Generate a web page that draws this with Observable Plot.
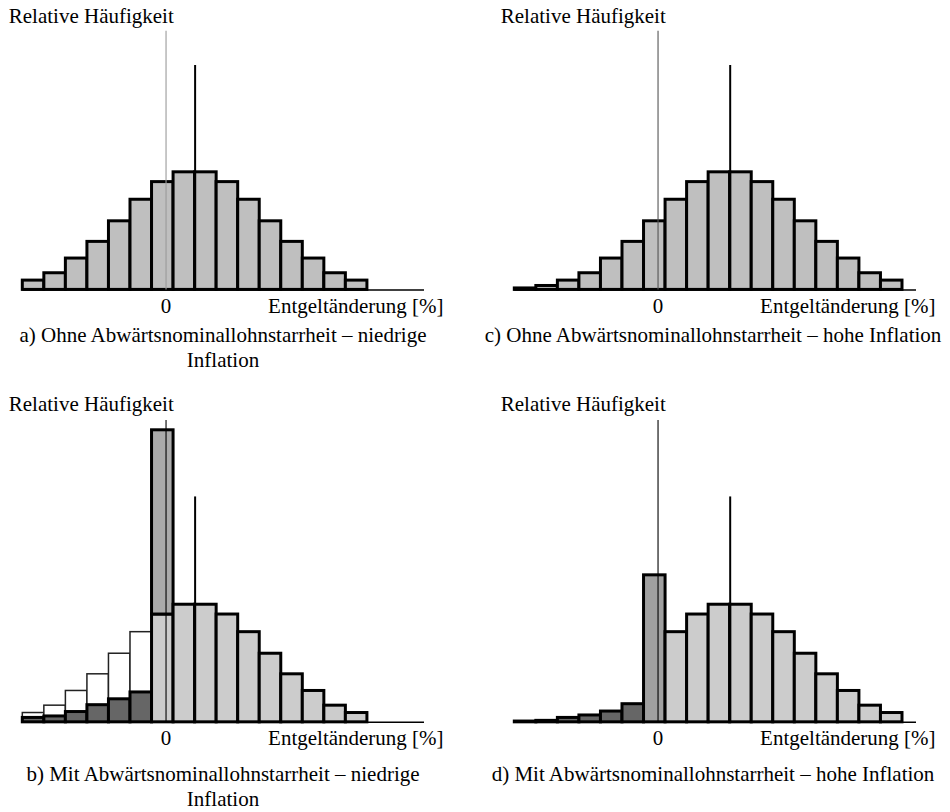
<!DOCTYPE html>
<html>
<head>
<meta charset="utf-8">
<script src="https://cdn.jsdelivr.net/npm/d3@7"></script>
<script src="https://cdn.jsdelivr.net/npm/@observablehq/plot@0.6"></script>
<style>
  body { margin: 0; background: #fff; font-family: "Liberation Serif", "DejaVu Serif", serif; }
  #root { position: relative; width: 950px; height: 812px; overflow: hidden; background: #fff; }
  .panel { position: absolute; width: 475px; }
  .panel svg { max-width: none !important; }
  .cap { position: absolute; text-align: center; font-size: 21px; line-height: 25px; white-space: nowrap; color: #000; }
</style>
</head>
<body>
<div id="root"></div>
<script>
// ---- data ----
// lower edges of the wage-change bins (bin width 1, zero lies inside bin index 6)
const binLower = [-6.65, -5.65, -4.65, -3.65, -2.65, -1.65, -0.65, 0.35, 1.35, 2.35, 3.35, 4.35, 5.35, 6.35, 7.35, 8.35, 9.35, 10.35];
const binWidth = 1;
const xDomain = [-6.65, 12.0];
const xTicks = [0];
const xTickLabels = ["0"];

// a) ohne Starrheit, niedrige Inflation (bins 0..15)
const freqA = [0.95, 1.7, 3.2, 4.9, 7.0, 9.2, 11.0, 12.0, 12.0, 11.0, 9.2, 7.0, 4.9, 3.2, 1.7, 0.95];
// c) ohne Starrheit, hohe Inflation (bins 0..17)
const freqC = [0.15, 0.4, 0.95, 1.7, 3.2, 4.9, 7.0, 9.2, 11.0, 12.0, 12.0, 11.0, 9.2, 7.0, 4.9, 3.2, 1.7, 0.95];
// b) mit Starrheit, niedrige Inflation
const freqBCounterfactual = [0.95, 1.7, 3.2, 4.9, 7.0, 9.2];      // white outlines, bins 0..5
const freqBRemaining = [0.45, 0.6, 1.05, 1.75, 2.35, 3.05];        // dark bars, bins 0..5
const freqBSpikeLow = [11.0];                                      // bin 6 lower part
const freqBSpikeHigh = [29.8];                                     // bin 6 top of spike
const freqBRight = [12.0, 12.0, 11.0, 9.2, 7.0, 4.9, 3.2, 1.7, 0.95]; // bins 7..15
// d) mit Starrheit, hohe Inflation
const freqDRemaining = [0.08, 0.15, 0.45, 0.7, 1.1, 1.85];          // bins 0..5
const freqDSpike = [15.0];                                         // bin 6
const freqDRight = [9.2, 11.0, 12.0, 12.0, 11.0, 9.2, 7.0, 4.9, 3.2, 1.7, 0.95]; // bins 7..17

// reference lines
const meanA = [1.35], meanB = [1.35], meanC = [3.35], meanD = [3.35];
const meanLineHeight = [22.9, 23.0, 22.9, 23.0];        // a, b, c, d
const zeroLineTop = [26.4, 30.8, 26.4, 30.8];           // a, b, c, d

const yLabel = "Relative Häufigkeit";
const xLabel = "Entgeltänderung [%]";
const captions = [
  "a) Ohne Abwärtsnominallohnstarrheit – niedrige<br>Inflation",
  "b) Mit Abwärtsnominallohnstarrheit – niedrige<br>Inflation",
  "c) Ohne Abwärtsnominallohnstarrheit – hohe Inflation",
  "d) Mit Abwärtsnominallohnstarrheit – hohe Inflation"
];

// ---- helpers ----
function bins(values, start) {
  return values.map((v, i) => ({x1: binLower[start + i], x2: binLower[start + i] + binWidth, v}));
}
function stackedBins(low, high, start) {
  return low.map((v, i) => ({x1: binLower[start + i], x2: binLower[start + i] + binWidth, lo: v, hi: high[i]}));
}

const PX = 9.8;          // pixels per percentage point on y
const FONT = "'Liberation Serif', 'DejaVu Serif', serif";
const light1 = "#bfbfbf", light2 = "#cccccc";

function panel({barMarks, mean, meanH, zeroTop, zeroColor, top, left, marginTop, labelDy}) {
  const marginBottom = 42;
  const height = marginTop + zeroTop * PX + marginBottom;
  const plot = Plot.plot({
    width: 475,
    height,
    marginLeft: 22.3,
    marginRight: 51,
    marginTop,
    marginBottom,
    x: {domain: xDomain, axis: null},
    y: {domain: [0, zeroTop], axis: null},
    style: {fontFamily: FONT, fontSize: "21px", background: "white", color: "black", overflow: "visible", maxWidth: "none"},
    marks: [
      ...barMarks,
      Plot.ruleY([0], {stroke: "black", strokeWidth: 1.5}),
      Plot.ruleX([0], {y1: 0, y2: zeroTop, stroke: zeroColor, strokeWidth: 1.1}),
      Plot.ruleX(mean, {y1: 0, y2: meanH, stroke: "black", strokeWidth: 2}),
      Plot.axisX(xTicks, {anchor: "bottom", tickSize: 0, tickPadding: 8, fontSize: 21, label: null,
        tickFormat: (d, i) => xTickLabels[i], fill: "black"}),
      Plot.text([xLabel], {text: d => d, frameAnchor: "bottom-right", textAnchor: "end", lineAnchor: "bottom",
        dx: 19, dy: 23, fontSize: 21, fill: "black"}),
      Plot.text([yLabel], {text: d => d, frameAnchor: "top-left", textAnchor: "start", lineAnchor: "bottom",
        dx: -14, dy: labelDy, fontSize: 21, fill: "black"})
    ]
  });
  const div = document.createElement("div");
  div.className = "panel";
  div.style.left = left + "px";
  div.style.top = top + "px";
  div.appendChild(plot);
  document.getElementById("root").appendChild(div);
}

const thick = {stroke: "black", strokeWidth: 3};

// a
panel({
  barMarks: [Plot.rect(bins(freqA, 0), {x1: "x1", x2: "x2", y1: 0, y2: "v", fill: light1, ...thick})],
  mean: meanA, meanH: meanLineHeight[0], zeroTop: zeroLineTop[0], zeroColor: "#9a9a9a",
  top: 0, left: 0, marginTop: 30.7, labelDy: -8
});
// c
panel({
  barMarks: [Plot.rect(bins(freqC, 0), {x1: "x1", x2: "x2", y1: 0, y2: "v", fill: light1, ...thick})],
  mean: meanC, meanH: meanLineHeight[2], zeroTop: zeroLineTop[2], zeroColor: "#555",
  top: 0, left: 492, marginTop: 30.7, labelDy: -8
});
// b
panel({
  barMarks: [
    Plot.rect(bins(freqBCounterfactual, 0), {x1: "x1", x2: "x2", y1: 0, y2: "v", fill: "white", stroke: "#222", strokeWidth: 1.5}),
    Plot.rect(bins(freqBRemaining, 0), {x1: "x1", x2: "x2", y1: 0, y2: "v", fill: "#666", ...thick}),
    Plot.rect(bins(freqBSpikeLow, 6), {x1: "x1", x2: "x2", y1: 0, y2: "v", fill: light2, ...thick}),
    Plot.rect(stackedBins(freqBSpikeLow, freqBSpikeHigh, 6), {x1: "x1", x2: "x2", y1: "lo", y2: "hi", fill: "#ababab", ...thick}),
    Plot.rect(bins(freqBRight, 7), {x1: "x1", x2: "x2", y1: 0, y2: "v", fill: light2, ...thick})
  ],
  mean: meanB, meanH: meanLineHeight[1], zeroTop: zeroLineTop[1], zeroColor: "black",
  top: 390, left: 0, marginTop: 30, labelDy: -9.3
});
// d
panel({
  barMarks: [
    Plot.rect(bins(freqDRemaining, 0), {x1: "x1", x2: "x2", y1: 0, y2: "v", fill: "#666", ...thick}),
    Plot.rect(bins(freqDSpike, 6), {x1: "x1", x2: "x2", y1: 0, y2: "v", fill: "#a0a0a0", ...thick}),
    Plot.rect(bins(freqDRight, 7), {x1: "x1", x2: "x2", y1: 0, y2: "v", fill: light2, ...thick})
  ],
  mean: meanD, meanH: meanLineHeight[3], zeroTop: zeroLineTop[3], zeroColor: "black",
  top: 390, left: 492, marginTop: 30, labelDy: -9.3
});

// captions
const capPos = [
  {left: 0, width: 446, top: 323},
  {left: 0, width: 446, top: 762},
  {left: 478, width: 470, top: 323},
  {left: 478, width: 470, top: 762}
];
captions.forEach((c, i) => {
  const d = document.createElement("div");
  d.className = "cap";
  d.style.left = capPos[i].left + "px";
  d.style.width = capPos[i].width + "px";
  d.style.top = capPos[i].top + "px";
  d.innerHTML = c;
  document.getElementById("root").appendChild(d);
});
</script>
</body>
</html>
